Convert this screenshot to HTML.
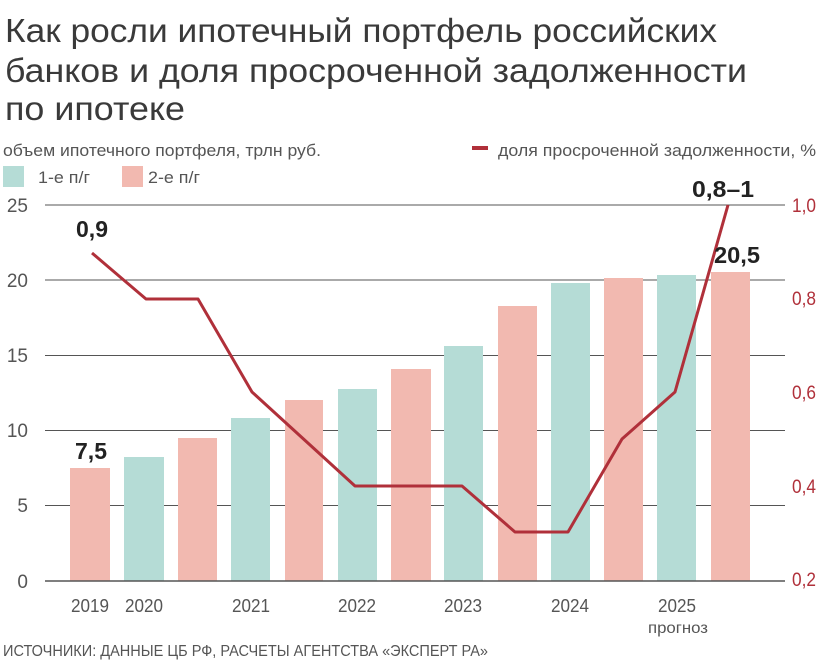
<!DOCTYPE html>
<html><head><meta charset="utf-8"><style>
body{margin:0;background:#fff;}
svg{display:block;font-family:"Liberation Sans",sans-serif;}
</style></head><body>
<svg width="828" height="672" viewBox="0 0 828 672" xmlns="http://www.w3.org/2000/svg">
<g fill="#3a3a3a" font-size="33">
<text x="5" y="42" textLength="712" lengthAdjust="spacingAndGlyphs">Как росли ипотечный портфель российских</text>
<text x="5" y="82" textLength="742" lengthAdjust="spacingAndGlyphs">банков и доля просроченной задолженности</text>
<text x="5" y="120" textLength="180" lengthAdjust="spacingAndGlyphs">по ипотеке</text>
</g>
<g fill="#555" font-size="17">
<text x="3" y="156" textLength="318" lengthAdjust="spacingAndGlyphs">объем ипотечного портфеля, трлн руб.</text>
<text x="498" y="156" textLength="318" lengthAdjust="spacingAndGlyphs">доля просроченной задолженности, %</text>
<text x="38" y="183" textLength="52" lengthAdjust="spacingAndGlyphs">1-е п/г</text>
<text x="148" y="183" textLength="52" lengthAdjust="spacingAndGlyphs">2-е п/г</text>
</g>
<rect x="472" y="146" width="16" height="4" fill="#b0303a"/>
<rect x="3" y="166" width="21" height="21" fill="#b5dcd6"/>
<rect x="122" y="166" width="21" height="21" fill="#f2b9b0"/>
<g stroke="#555" stroke-width="1">
<line x1="45" y1="205" x2="785" y2="205"/>
<line x1="45" y1="280" x2="785" y2="280"/>
<line x1="45" y1="355.5" x2="785" y2="355.5"/>
<line x1="45" y1="430.5" x2="785" y2="430.5"/>
<line x1="45" y1="505.5" x2="785" y2="505.5"/>
</g>
<g>
<rect x="70" y="468" width="40" height="113" fill="#f2b9b0"/>
<rect x="124" y="457" width="40" height="124" fill="#b5dcd6"/>
<rect x="178" y="438" width="39" height="143" fill="#f2b9b0"/>
<rect x="231" y="418" width="39" height="163" fill="#b5dcd6"/>
<rect x="285" y="400" width="38" height="181" fill="#f2b9b0"/>
<rect x="338" y="389" width="39" height="192" fill="#b5dcd6"/>
<rect x="391" y="369" width="40" height="212" fill="#f2b9b0"/>
<rect x="444" y="346" width="39" height="235" fill="#b5dcd6"/>
<rect x="498" y="306" width="39" height="275" fill="#f2b9b0"/>
<rect x="551" y="283" width="39" height="298" fill="#b5dcd6"/>
<rect x="604" y="278" width="39" height="303" fill="#f2b9b0"/>
<rect x="657" y="275" width="39" height="306" fill="#b5dcd6"/>
<rect x="711" y="272" width="39" height="309" fill="#f2b9b0"/>
</g>
<line x1="45" y1="581" x2="785" y2="581" stroke="#555" stroke-width="1.5"/>
<polyline fill="none" stroke="#b0303a" stroke-width="3" stroke-linejoin="round" points="92,253 146,299 198,299 252,392 355,486 462,486 515,532 568,532 622,439 675,392 728,205"/>
<g fill="#555" font-size="19" text-anchor="end">
<text x="28" y="212">25</text><text x="28" y="287">20</text><text x="28" y="362">15</text>
<text x="28" y="437">10</text><text x="28" y="512">5</text><text x="28" y="588">0</text>
</g>
<g fill="#b0303a" font-size="19">
<text x="792" y="212" textLength="24" lengthAdjust="spacingAndGlyphs">1,0</text><text x="792" y="305" textLength="24" lengthAdjust="spacingAndGlyphs">0,8</text><text x="792" y="399" textLength="24" lengthAdjust="spacingAndGlyphs">0,6</text>
<text x="792" y="493" textLength="24" lengthAdjust="spacingAndGlyphs">0,4</text><text x="792" y="586" textLength="24" lengthAdjust="spacingAndGlyphs">0,2</text>
</g>
<g fill="#555" font-size="18">
<text x="71" y="612" textLength="38" lengthAdjust="spacingAndGlyphs">2019</text><text x="125" y="612" textLength="38" lengthAdjust="spacingAndGlyphs">2020</text><text x="232" y="612" textLength="38" lengthAdjust="spacingAndGlyphs">2021</text>
<text x="338" y="612" textLength="38" lengthAdjust="spacingAndGlyphs">2022</text><text x="444" y="612" textLength="38" lengthAdjust="spacingAndGlyphs">2023</text><text x="551" y="612" textLength="38" lengthAdjust="spacingAndGlyphs">2024</text>
<text x="658" y="612" textLength="38" lengthAdjust="spacingAndGlyphs">2025</text><text x="648" y="633" font-size="16" textLength="60" lengthAdjust="spacingAndGlyphs">прогноз</text>
</g>
<text x="3" y="656" fill="#555" font-size="16" textLength="485" lengthAdjust="spacingAndGlyphs">ИСТОЧНИКИ: ДАННЫЕ ЦБ РФ, РАСЧЕТЫ АГЕНТСТВА «ЭКСПЕРТ РА»</text>
<g fill="#222" font-size="23" font-weight="bold">
<text x="76" y="237" textLength="32" lengthAdjust="spacingAndGlyphs">0,9</text>
<text x="75" y="459" textLength="32" lengthAdjust="spacingAndGlyphs">7,5</text>
<text x="692" y="197" textLength="62" lengthAdjust="spacingAndGlyphs">0,8–1</text>
<text x="714" y="263" textLength="46" lengthAdjust="spacingAndGlyphs">20,5</text>
</g>
</svg>
</body></html>
